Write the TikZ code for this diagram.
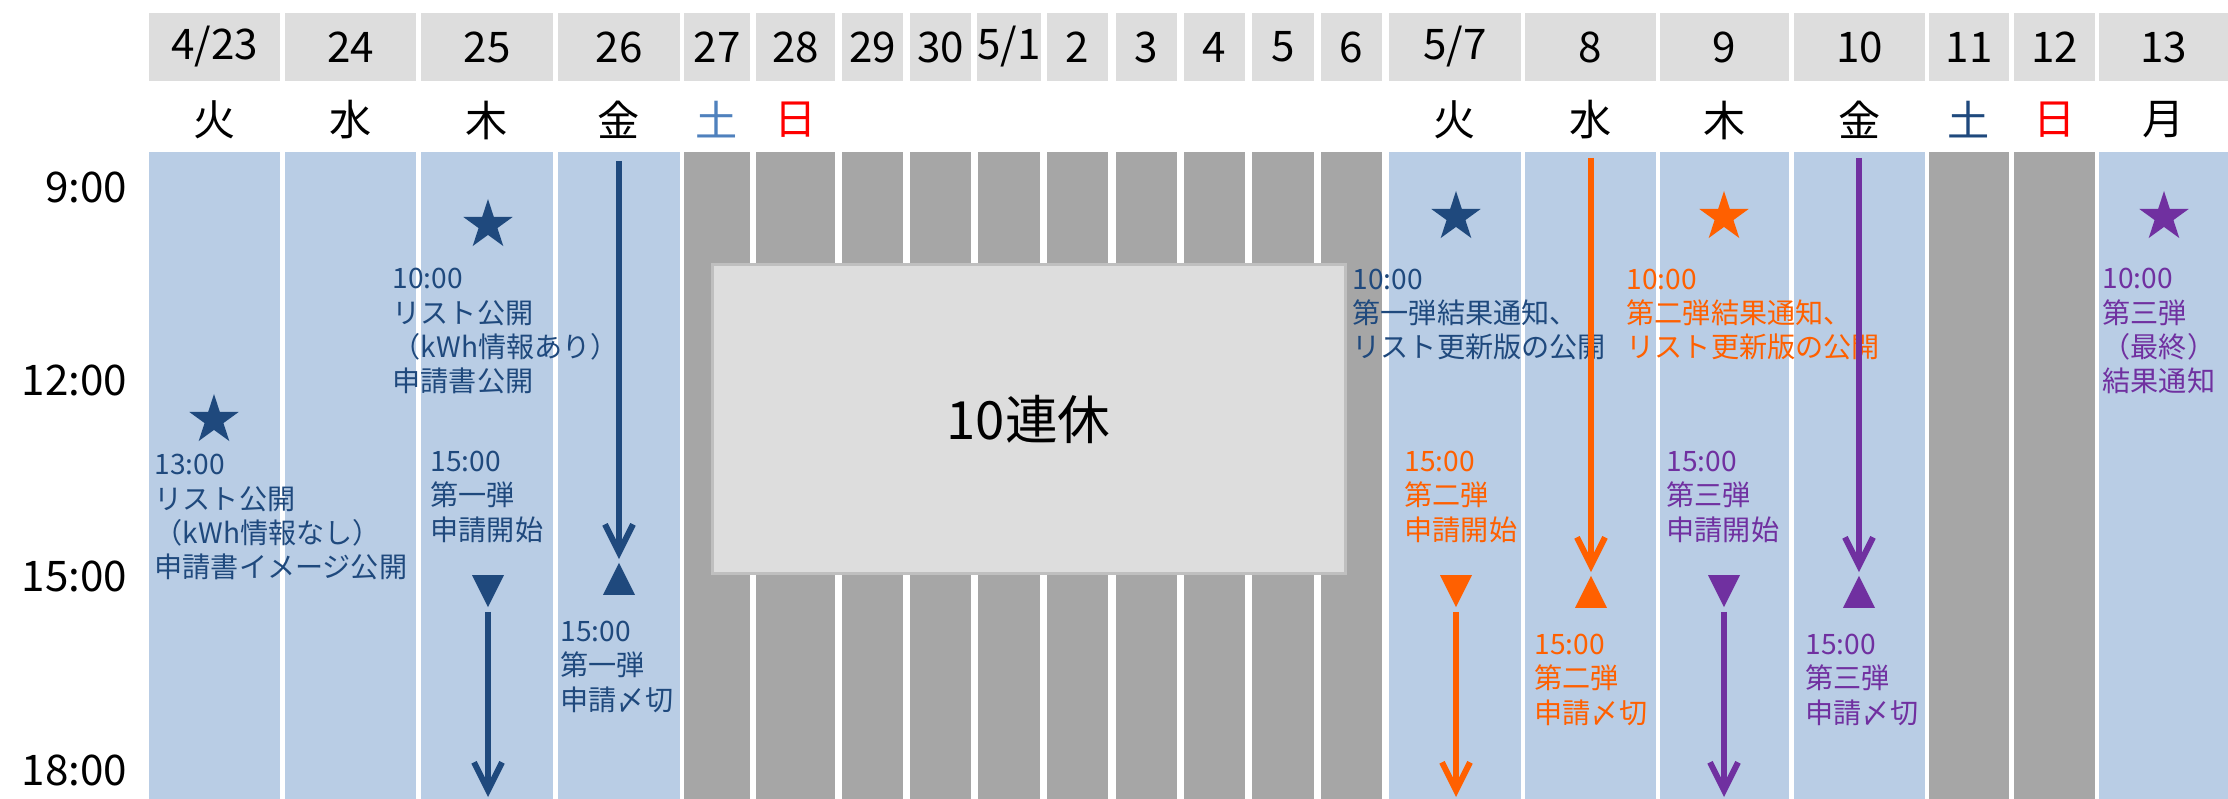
\documentclass[tikz,border=0pt]{standalone}
\usepackage{fontspec}
\setmainfont{Noto Sans CJK JP}
\usepackage{tikz}
\usetikzlibrary{arrows.meta,shapes.geometric}

\definecolor{colblue}{HTML}{B9CDE5}
\definecolor{colgray}{HTML}{A6A6A6}
\definecolor{hdgray}{HTML}{DDDDDD}
\definecolor{darkblu}{HTML}{1F497D}
\definecolor{satblu}{HTML}{4F81BD}
\definecolor{orng}{HTML}{FF6000}
\definecolor{purp}{HTML}{7030A0}

\begin{document}
\begin{tikzpicture}[x=0.1mm,y=-0.1mm]
\tikzstyle{hdcell}=[fill=hdgray,inner sep=0,minimum height=6.8mm,font=\fontsize{12}{14}\selectfont]
\tikzstyle{dayname}=[inner sep=0,font=\fontsize{12}{14}\selectfont]
\tikzstyle{timelbl}=[anchor=east,inner sep=0,font=\fontsize{12}{14}\selectfont]
\tikzstyle{note}=[anchor=base west,inner sep=0,align=left,font=\fontsize{8}{9.8}\selectfont]
\tikzstyle{starmark}=[star,star points=5,star point ratio=2.618,minimum size=5.2mm,inner sep=0]
\tikzstyle{downtri}=[isosceles triangle,isosceles triangle stretches,shape border rotate=-90,minimum width=3.2mm,minimum height=3.2mm,inner sep=0]
\tikzstyle{uptri}=[isosceles triangle,isosceles triangle stretches,shape border rotate=90,minimum width=3.2mm,minimum height=3.2mm,inner sep=0]
\tikzstyle{period}=[line width=0.6mm,-{Straight Barb[length=2.8mm,width=2.8mm]}]
\useasboundingbox (0,0) rectangle (2228,799);

\foreach \l/\r/\c/\dt/\dy [count=\i] in {
  149/280/colblue/{4/23}/火, 285/416/colblue/24/水, 421/553/colblue/25/木,
  558/680/colblue/26/金, 684/750/colgray/27/{\color{satblu}土},
  756/835/colgray/28/{\color{red}日}, 842/903/colgray/29/{}, 910/971/colgray/30/{},
  978/1040/colgray/{5/1}/{}, 1047/1108/colgray/2/{}, 1116/1177/colgray/3/{},
  1184/1245/colgray/4/{}, 1252/1314/colgray/5/{}, 1321/1382/colgray/6/{},
  1389/1521/colblue/{5/7}/火, 1525/1656/colblue/8/水, 1660/1789/colblue/9/木,
  1794/1925/colblue/10/金, 1929/2009/colgray/11/{\color{darkblu}土},
  2014/2095/colgray/12/{\color{red}日}, 2099/2228/colblue/13/月}{
  \fill[\c] (\l,152) rectangle (\r,799);
  \node[hdcell,minimum width={(\r-\l)*0.1mm}] (h\i) at ({(\l+\r)/2},47) {\dt};
  \node[dayname] (d\i) at ({(\l+\r)/2},120) {\dy};
}

\node[timelbl] (t9) at (128,187) {9:00};
\node[timelbl] (t12) at (128,380) {12:00};
\node[timelbl] (t15) at (128,576) {15:00};
\node[timelbl] (t18) at (128,770) {18:00};

\node[fill=hdgray,draw=black!25,line width=0.3mm,minimum width=63.3mm,minimum height=30.9mm,font=\fontsize{15}{18}\selectfont] (rest) at (1028.5,419.5) {10連休};

\node[starmark,fill=darkblu] (s1) at (214,420) {};
\node[starmark,fill=darkblu] (s2) at (488,225) {};
\node[starmark,fill=darkblu] (s3) at (1456,217) {};
\node[starmark,fill=orng] (s4) at (1724,217) {};
\node[starmark,fill=purp] (s5) at (2164,217) {};

\node[note,text=darkblu] (n1) at (154,578) {13:00\\リスト公開\\（kWh情報なし）\\申請書イメージ公開};
\node[note,text=darkblu] (n2) at (392,392) {10:00\\リスト公開\\（kWh情報あり）\\申請書公開};
\node[note,text=darkblu] (n3) at (430,540) {15:00\\第一弾\\申請開始};
\node[note,text=darkblu] (n4) at (560,710) {15:00\\第一弾\\申請〆切};
\node[note,text=darkblu] (n5) at (1352,358) {10:00\\第一弾結果通知、\\リスト更新版の公開};
\node[note,text=orng] (n6) at (1404,540) {15:00\\第二弾\\申請開始};
\node[note,text=orng] (n7) at (1534,723) {15:00\\第二弾\\申請〆切};
\node[note,text=orng] (n8) at (1626,358) {10:00\\第二弾結果通知、\\リスト更新版の公開};
\node[note,text=purp] (n9) at (1666,540) {15:00\\第三弾\\申請開始};
\node[note,text=purp] (n10) at (1805,723) {15:00\\第三弾\\申請〆切};
\node[note,text=purp] (n11) at (2102,392) {10:00\\第三弾\\（最終）\\結果通知};

\node[downtri,fill=darkblu] (v1) at (488,585) {};
\node[uptri,fill=darkblu] (a1) at (619,585) {};
\node[downtri,fill=orng] (v2) at (1456,585) {};
\node[uptri,fill=orng] (a2) at (1591,598) {};
\node[downtri,fill=purp] (v3) at (1724,585) {};
\node[uptri,fill=purp] (a3) at (1859,598) {};

\coordinate (e1) at (488,797);
\coordinate (b1) at (619,161);
\coordinate (e2) at (1456,797);
\coordinate (b2) at (1591,158);
\coordinate (e3) at (1724,797);
\coordinate (b3) at (1859,158);

\draw[period,darkblu,shorten <=0.3mm] (v1.apex) -- (e1);
\draw[period,darkblu,shorten >=0.2mm] (b1) -- (a1.apex);
\draw[period,orng,shorten <=0.3mm] (v2.apex) -- (e2);
\draw[period,orng,shorten >=0.2mm] (b2) -- (a2.apex);
\draw[period,purp,shorten <=0.3mm] (v3.apex) -- (e3);
\draw[period,purp,shorten >=0.2mm] (b3) -- (a3.apex);
\end{tikzpicture}
\end{document}
